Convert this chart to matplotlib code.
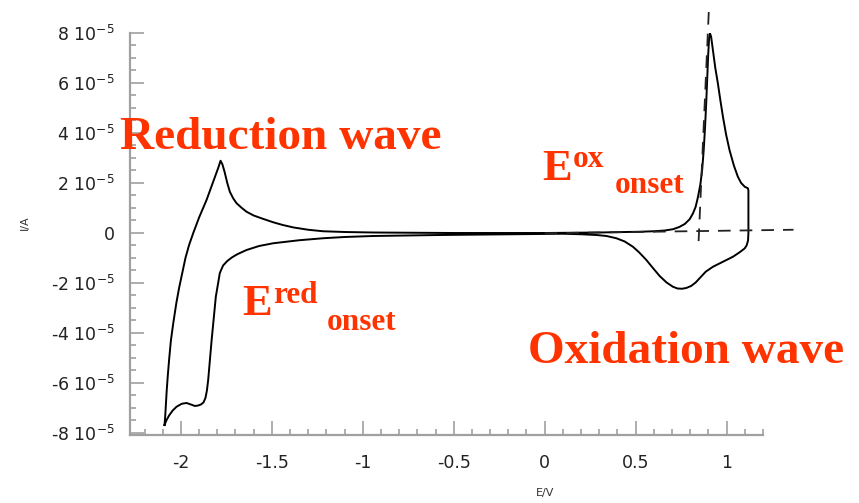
import numpy as np
import matplotlib
matplotlib.use("Agg")
import matplotlib.pyplot as plt
from matplotlib.ticker import MultipleLocator, FuncFormatter

plt.rcParams["mathtext.fontset"] = "dejavusans"

# cyclic voltammogram, one closed loop (E in V, I in units of 1e-5 A)
potencial = [-2.090, -2.086, -2.082, -2.078, -2.072, -2.064, -2.055, -2.042, -2.025, -2.010,
             -1.993, -1.975, -1.955, -1.932, -1.900, -1.859, -1.819, -1.795, -1.782,
             -1.772, -1.760, -1.745, -1.731, -1.712, -1.694, -1.665, -1.639, -1.600, -1.550,
             -1.493, -1.440, -1.380, -1.300, -1.220, -1.100, -0.945, -0.500,
             0.000, 0.300, 0.522, 0.600, 0.660, 0.705, 0.740, 0.770, 0.797, 0.815,
             0.830, 0.843, 0.856, 0.866, 0.874, 0.881, 0.888, 0.894, 0.899, 0.904,
             0.909, 0.915, 0.925, 0.938, 0.952, 0.966, 0.980, 0.997, 1.016, 1.040,
             1.062, 1.080, 1.100, 1.117, 1.120, 1.120, 1.118, 1.110, 1.099, 1.070,
             1.035, 0.980, 0.925, 0.885, 0.852, 0.830, 0.805, 0.778, 0.755, 0.730,
             0.705, 0.670, 0.632, 0.595, 0.559, 0.520, 0.485, 0.440, 0.394, 0.340,
             0.284, 0.200, 0.100, -0.300, -0.577, -0.943, -1.100, -1.218, -1.350, -1.492,
             -1.570, -1.639, -1.690, -1.720, -1.745, -1.768, -1.786, -1.808, -1.831, -1.850,
             -1.857, -1.865, -1.876, -1.890, -1.905, -1.923, -1.945, -1.969, -1.995, -2.024,
             -2.045, -2.065, -2.080, -2.090]
corrente = [-7.68, -7.30, -6.80, -6.30, -5.70, -5.00, -4.30, -3.61, -2.80, -2.20,
            -1.61, -1.00, -0.48, 0.00, 0.62, 1.32, 2.12, 2.60, 2.89,
            2.75, 2.45, 2.00, 1.65, 1.38, 1.19, 1.00, 0.85, 0.70, 0.57,
            0.43, 0.32, 0.22, 0.13, 0.07, 0.04, 0.02, 0.00,
            0.00, 0.02, 0.05, 0.07, 0.10, 0.15, 0.24, 0.36, 0.55, 0.78,
            1.05, 1.45, 1.95, 2.55, 3.30, 4.15, 5.20, 6.30, 7.15, 7.80,
            7.98, 7.85, 7.32, 6.60, 5.99, 5.30, 4.65, 3.95, 3.32, 2.70,
            2.25, 2.00, 1.85, 1.79, 1.70, 0.00, -0.30, -0.50, -0.62, -0.78,
            -0.95, -1.15, -1.35, -1.55, -1.81, -1.98, -2.12, -2.20, -2.23, -2.22,
            -2.15, -1.98, -1.72, -1.40, -1.08, -0.78, -0.55, -0.34, -0.21, -0.12,
            -0.08, -0.05, -0.03, -0.06, -0.08, -0.12, -0.16, -0.21, -0.29, -0.41,
            -0.52, -0.68, -0.85, -0.98, -1.12, -1.30, -1.60, -2.55, -4.28, -5.88,
            -6.30, -6.60, -6.78, -6.86, -6.90, -6.92, -6.86, -6.80, -6.83, -6.95,
            -7.10, -7.30, -7.50, -7.68]

# onset construction lines
tangente_E = [0.902, 0.846]
tangente_I = [8.84, -0.36]
base_E = [0.0, 1.368]
base_I = [-0.01, 0.13]

escala = 1e-5
vermelho = "#ff3300"
cinza = "#a0a0a0"

fig = plt.figure(figsize=(8.59, 5.03), dpi=100)
ax = fig.add_axes([0.1513, 0.1352, 0.7369, 0.7992])

ax.plot(potencial, np.array(corrente) * escala, color="black", lw=1.4,
        solid_joinstyle="round")
ax.plot(tangente_E, np.array(tangente_I) * escala, color="#222222", lw=1.3,
        dashes=(7, 5), clip_on=False)
ax.plot(base_E, np.array(base_I) * escala, color="#222222", lw=1.3,
        dashes=(7, 5), clip_on=False)

ax.set_xlim(-2.28, 1.2)
ax.set_ylim(-8.08e-5, 8e-5)

for lado in ["top", "right"]:
    ax.spines[lado].set_visible(False)
for lado in ["left", "bottom"]:
    ax.spines[lado].set_color(cinza)
    ax.spines[lado].set_linewidth(1.6)

ax.xaxis.set_major_locator(MultipleLocator(0.5))
ax.xaxis.set_minor_locator(MultipleLocator(0.1))
ax.yaxis.set_major_locator(MultipleLocator(2e-5))
ax.yaxis.set_minor_locator(MultipleLocator(0.5e-5))


def rotulo_y(v, pos):
    n = int(round(v / escala))
    return "0" if n == 0 else f"{n} 10$^{{-5}}$"


ax.yaxis.set_major_formatter(FuncFormatter(rotulo_y))
ax.xaxis.set_major_formatter(FuncFormatter(lambda v, pos: f"{v:g}"))

ax.tick_params(which="both", direction="in", color=cinza, width=1.2,
               labelsize=12.5, labelcolor="#222222")
ax.tick_params(which="major", length=10)
ax.tick_params(which="minor", length=4)
ax.tick_params(axis="y", which="major", pad=11)
ax.tick_params(axis="x", which="major", pad=14)

fig.text(545 / 859, 1 - 493 / 503, "E/V", fontsize=8, color="#333333",
         ha="center", va="center")
fig.text(25 / 859, 1 - 223 / 503, "I/A", fontsize=8, color="#333333",
         ha="center", va="center", rotation=90)

serif = dict(family="Liberation Serif", weight="bold", color=vermelho, va="baseline",
             ha="left", clip_on=False)
ax.text(-2.335, 3.36e-5, "Reduction wave", fontsize=34, **serif)
ax.text(-0.093, -5.2e-5, "Oxidation wave", fontsize=34, **serif)

ax.text(-1.665, -3.28e-5, "E", fontsize=32, **serif)
ax.text(-1.495, -2.80e-5, "red", fontsize=22.5, **serif)
ax.text(-1.198, -3.88e-5, "onset", fontsize=22.5, **serif)

ax.text(-0.011, 2.12e-5, "E", fontsize=32, **serif)
ax.text(0.154, 2.64e-5, "ox", fontsize=22.5, **serif)
ax.text(0.385, 1.60e-5, "onset", fontsize=22.5, **serif)

fig.savefig("out.png", dpi=100)
